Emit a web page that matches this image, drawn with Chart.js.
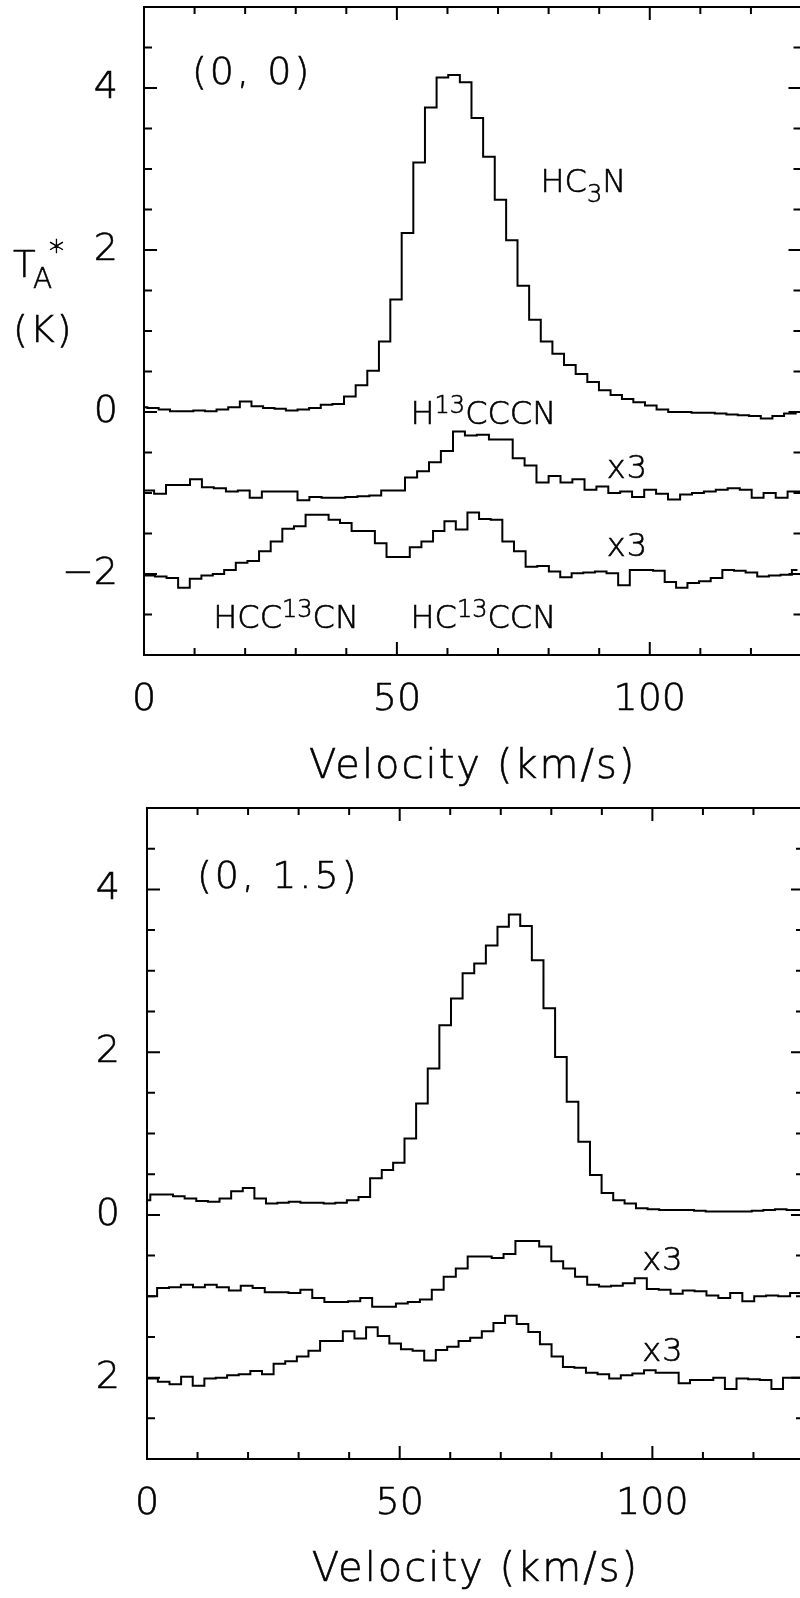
<!DOCTYPE html>
<html>
<head>
<meta charset="utf-8">
<script src="https://cdn.jsdelivr.net/npm/chart.js@4.4.1/dist/chart.umd.min.js"></script>
<style>
  html, body { margin: 0; padding: 0; background: #fff; width: 800px; height: 1598px; overflow: hidden; }
  canvas { position: absolute; left: 0; }
  #topPanel { top: 0; }
  #bottomPanel { top: 790px; }
</style>
</head>
<body>
<canvas id="topPanel" width="808" height="800"></canvas>
<canvas id="bottomPanel" width="812" height="808"></canvas>
<script>
// channel centres (km/s) of the three spectra
const velHC3N = [-0.5, 1.8, 4.0, 6.3, 8.6, 10.9, 13.2, 15.5, 17.8, 20.1, 22.4, 24.7, 26.9, 29.2, 31.5, 33.8, 36.1, 38.4, 40.7, 43.0, 45.3, 47.6, 49.8, 52.1, 54.4, 56.7, 59.0, 61.3, 63.6, 65.9, 68.2, 70.5, 72.7, 75.0, 77.3, 79.6, 81.9, 84.2, 86.5, 88.8, 91.1, 93.4, 95.6, 97.9, 100.2, 102.5, 104.8, 107.1, 109.4, 111.7, 114.0, 116.3, 118.5, 120.8, 123.1, 125.4, 127.7, 130.0];
const velH13 = [-1.5, 0.8, 3.2, 5.5, 7.9, 10.3, 12.6, 15.0, 17.4, 19.7, 22.1, 24.5, 26.8, 29.2, 31.5, 33.9, 36.3, 38.6, 41.0, 43.4, 45.7, 48.1, 50.4, 52.8, 55.2, 57.5, 59.9, 62.3, 64.6, 67.0, 69.4, 71.7, 74.1, 76.4, 78.8, 81.2, 83.5, 85.9, 88.3, 90.6, 93.0, 95.3, 97.7, 100.1, 102.4, 104.8, 107.2, 109.5, 111.9, 114.2, 116.6, 119.0, 121.3, 123.7, 126.1, 128.4, 130.8];
const velIso = [-1.3, 1.0, 3.3, 5.6, 7.9, 10.2, 12.5, 14.7, 17.0, 19.3, 21.6, 23.9, 26.2, 28.5, 30.8, 33.1, 35.4, 37.6, 39.9, 42.2, 44.5, 46.8, 49.1, 51.4, 53.7, 56.0, 58.3, 60.5, 62.8, 65.1, 67.4, 69.7, 72.0, 74.3, 76.6, 78.9, 81.2, 83.4, 85.7, 88.0, 90.3, 92.6, 94.9, 97.2, 99.5, 101.8, 104.1, 106.3, 108.6, 110.9, 113.2, 115.5, 117.8, 120.1, 122.4, 124.7, 127.0, 129.2];

// (0, 0)
const topHC3N = [0.06, 0.05, 0.03, 0.01, 0.01, 0.02, 0.01, 0.03, 0.06, 0.13, 0.07, 0.05, 0.04, 0.02, 0.03, 0.05, 0.09, 0.10, 0.19, 0.33, 0.51, 0.87, 1.39, 2.21, 3.08, 3.76, 4.13, 4.16, 4.07, 3.63, 3.15, 2.62, 2.12, 1.56, 1.14, 0.87, 0.72, 0.58, 0.47, 0.37, 0.27, 0.21, 0.16, 0.12, 0.08, 0.03, 0.00, 0.00, -0.01, -0.01, -0.02, -0.03, -0.04, -0.05, -0.08, -0.05, -0.02, 0.00];
const topH13 = [-0.97, -0.97, -1.01, -0.90, -0.90, -0.83, -0.93, -0.94, -0.98, -0.97, -1.06, -0.98, -0.98, -0.98, -1.09, -1.05, -1.06, -1.06, -1.05, -1.04, -1.03, -0.97, -0.97, -0.81, -0.73, -0.62, -0.48, -0.24, -0.29, -0.28, -0.34, -0.34, -0.57, -0.66, -0.87, -0.79, -0.87, -0.83, -0.96, -0.92, -1.00, -0.98, -1.05, -0.96, -1.01, -1.08, -1.02, -1.00, -0.98, -0.96, -0.94, -0.96, -1.06, -1.00, -1.06, -0.98, -0.98];
const topIso = [-2.02, -2.02, -2.03, -2.05, -2.17, -2.06, -2.02, -2.00, -1.95, -1.86, -1.84, -1.72, -1.60, -1.44, -1.41, -1.27, -1.27, -1.33, -1.37, -1.47, -1.47, -1.62, -1.79, -1.79, -1.67, -1.60, -1.47, -1.35, -1.45, -1.24, -1.32, -1.33, -1.60, -1.72, -1.91, -1.90, -1.97, -2.04, -1.99, -1.98, -1.97, -1.99, -2.14, -1.95, -1.95, -1.96, -2.10, -2.17, -2.11, -2.09, -2.05, -1.95, -1.96, -1.98, -2.03, -2.02, -2.01, -1.95];

// (0, 1.5)
const botHC3N = [0.18, 0.25, 0.25, 0.23, 0.20, 0.17, 0.16, 0.20, 0.29, 0.33, 0.20, 0.14, 0.15, 0.16, 0.15, 0.15, 0.14, 0.15, 0.18, 0.22, 0.45, 0.55, 0.64, 0.94, 1.37, 1.80, 2.33, 2.66, 2.97, 3.09, 3.31, 3.54, 3.69, 3.55, 3.13, 2.54, 1.94, 1.39, 0.90, 0.49, 0.27, 0.18, 0.14, 0.08, 0.07, 0.06, 0.06, 0.06, 0.05, 0.04, 0.04, 0.04, 0.04, 0.05, 0.06, 0.07, 0.06, 0.06];
const botH13 = [-1.00, -1.00, -0.90, -0.89, -0.86, -0.89, -0.86, -0.89, -0.93, -0.87, -0.90, -0.95, -0.95, -0.96, -0.92, -1.02, -1.07, -1.07, -1.06, -1.02, -1.13, -1.13, -1.09, -1.07, -1.04, -0.92, -0.76, -0.66, -0.51, -0.51, -0.53, -0.48, -0.32, -0.32, -0.39, -0.57, -0.66, -0.76, -0.86, -0.88, -0.87, -0.84, -0.78, -0.91, -0.92, -0.97, -0.93, -0.94, -0.99, -1.02, -0.96, -1.06, -1.00, -0.99, -1.00, -0.96, -0.96];
const botIso = [-2.01, -2.01, -2.05, -2.08, -1.99, -2.10, -2.01, -2.00, -1.97, -1.96, -1.92, -1.96, -1.83, -1.80, -1.74, -1.67, -1.55, -1.55, -1.43, -1.52, -1.38, -1.49, -1.58, -1.65, -1.67, -1.79, -1.66, -1.62, -1.55, -1.51, -1.43, -1.33, -1.24, -1.34, -1.44, -1.59, -1.74, -1.87, -1.88, -1.94, -1.96, -2.01, -1.97, -1.95, -1.91, -1.94, -1.94, -2.07, -2.03, -2.03, -2.00, -2.14, -2.01, -2.02, -2.03, -2.14, -2.00, -2.00];

const xTickValues = [0, 50, 100];
const yTickValues = [-2, 0, 2, 4];

// in-plot annotations, anchored in data units (left edge, baseline)
const topLabels = [
  {x: 9.5, y: 4.05, size: 38, sp: 3, parts: ['(0, 0)']},
  {x: 78.4, y: 2.71, size: 32, sp: 0, parts: ['HC', ['3', 'sub'], 'N']},
  {x: 52.7, y: -0.15, size: 32, sp: 0, parts: ['H', ['13', 'sup'], 'CCCN']},
  {x: 91.5, y: -0.82, size: 32, sp: 1, parts: ['x3']},
  {x: 91.5, y: -1.78, size: 32, sp: 1, parts: ['x3']},
  {x: 13.7, y: -2.67, size: 32, sp: 0, parts: ['HCC', ['13', 'sup'], 'CN']},
  {x: 52.7, y: -2.67, size: 32, sp: 0, parts: ['HC', ['13', 'sup'], 'CCN']},
];
const bottomLabels = [
  {x: 9.9, y: 4.02, size: 38, sp: 3, parts: ['(0, 1.5)']},
  {x: 98.0, y: -0.68, size: 32, sp: 1, parts: ['x3']},
  {x: 98.0, y: -1.80, size: 32, sp: 1, parts: ['x3']},
];

const FAMILY = "'DejaVu Sans', sans-serif";
const WEIGHT = '200';
const INK = 0.6;  // extra stroke so the light face reads like the plotter lettering

function drawParts(ctx, x, y, parts, size, sp) {
  let cx = x;
  ctx.letterSpacing = (sp || 0) + 'px';
  parts.forEach((p) => {
    let text = p, s = size, dy = 0;
    if (Array.isArray(p)) {
      text = p[0];
      s = size * 0.75;
      dy = p[1] === 'sup' ? -size * 0.34 : size * 0.3;
    }
    ctx.font = WEIGHT + ' ' + s + 'px ' + FAMILY;
    ctx.strokeText(text, cx, y + dy);
    ctx.fillText(text, cx, y + dy);
    cx += ctx.measureText(text).width;
  });
  ctx.letterSpacing = '0px';
}

// box with inward ticks on all four sides
const frameTicks = {
  id: 'frameTicks',
  afterDatasetsDraw(chart) {
    const ctx = chart.ctx, a = chart.chartArea;
    const xs = chart.scales.x, ys = chart.scales.y;
    ctx.save();
    ctx.strokeStyle = '#000';
    ctx.lineWidth = 2;
    ctx.strokeRect(a.left, a.top, a.right - a.left, a.bottom - a.top);
    ctx.beginPath();
    for (let v = 0; v <= 130; v += 10) {
      const px = xs.getPixelForValue(v);
      const len = v % 50 === 0 ? 13 : 7;
      ctx.moveTo(px, a.bottom); ctx.lineTo(px, a.bottom - len);
      ctx.moveTo(px, a.top); ctx.lineTo(px, a.top + len);
    }
    for (let v = -3; v <= 5; v += 0.5) {
      const py = ys.getPixelForValue(v);
      const len = v % 2 === 0 ? 13 : 8;
      ctx.moveTo(a.left, py); ctx.lineTo(a.left + len, py);
      ctx.moveTo(a.right, py); ctx.lineTo(a.right - len, py);
    }
    ctx.stroke();
    ctx.restore();
  },
};

function textLayer(labels, cfg) {
  return {
    id: 'textLayer',
    afterDraw(chart) {
      const ctx = chart.ctx, a = chart.chartArea;
      const xs = chart.scales.x, ys = chart.scales.y;
      ctx.save();
      ctx.fillStyle = '#000';
      ctx.strokeStyle = '#000';
      ctx.lineWidth = INK;
      ctx.textBaseline = 'alphabetic';
      ctx.textAlign = 'left';
      labels.forEach((l) => {
        drawParts(ctx, xs.getPixelForValue(l.x), ys.getPixelForValue(l.y), l.parts, l.size, l.sp);
      });
      if (cfg.yTitle) {
        drawParts(ctx, 13, 277, ['T'], 37);
        drawParts(ctx, 33, 288, ['A'], 28);
        drawParts(ctx, 49, 261, ['*'], 30);
        drawParts(ctx, 13, 342, ['(K)'], 38, 2);
      }
      // x axis title
      ctx.textAlign = 'center';
      ctx.textBaseline = 'middle';
      drawParts(ctx, (a.left + a.right) / 2, cfg.titleY, ['Velocity (km/s)'], 40, 2);
      ctx.restore();
    },
  };
}

function series(vel, vals) {
  return {
    type: 'line',
    data: vel.map((v, i) => ({x: v, y: vals[i]})),
    stepped: 'middle',
    borderColor: '#000',
    borderWidth: 2,
    pointRadius: 0,
    fill: false,
  };
}

function makePanel(id, datasets, labels, cfg) {
  const tickFont = {family: FAMILY, size: 38, weight: WEIGHT};
  return new Chart(document.getElementById(id), {
    type: 'line',
    data: {datasets: datasets},
    options: {
      responsive: false,
      animation: false,
      devicePixelRatio: 1,
      layout: {padding: {top: cfg.top, right: cfg.right, left: 0, bottom: 0}},
      plugins: {legend: {display: false}, tooltip: {enabled: false}},
      scales: {
        x: {
          type: 'linear', min: 0, max: 130,
          afterBuildTicks: (s) => { s.ticks = xTickValues.map((v) => ({value: v})); },
          afterFit: (s) => { s.height = cfg.xHeight; s.paddingLeft = 0; s.paddingRight = 0; },
          grid: {display: false, drawTicks: false},
          border: {display: false},
          ticks: {color: '#000', padding: 22, maxRotation: 0, autoSkip: false, font: tickFont,
                  textStrokeColor: '#000', textStrokeWidth: INK},
        },
        y: {
          type: 'linear', min: -3, max: 5,
          afterBuildTicks: (s) => { s.ticks = yTickValues.map((v) => ({value: v})); },
          afterFit: (s) => { s.width = cfg.yWidth; s.paddingTop = 0; s.paddingBottom = 0; },
          grid: {display: false, drawTicks: false},
          border: {display: false},
          ticks: {color: '#000', padding: cfg.yPad, callback: cfg.yLabel, font: tickFont,
                  textStrokeColor: '#000', textStrokeWidth: INK},
        },
      },
    },
    plugins: [frameTicks, textLayer(labels, cfg)],
  });
}

makePanel('topPanel',
  [series(velHC3N, topHC3N), series(velH13, topH13), series(velIso, topIso)],
  topLabels,
  {top: 7, right: 6.5, xHeight: 145, yWidth: 144, yPad: 26, titleY: 768, yTitle: true,
   yLabel: (v) => (v < 0 ? '\u2212' + Math.abs(v) : String(v))});

makePanel('bottomPanel',
  [series(velHC3N, botHC3N), series(velH13, botH13), series(velIso, botIso)],
  bottomLabels,
  {top: 18, right: 8, xHeight: 139, yWidth: 147, yPad: 27, titleY: 781, yTitle: false,
   yLabel: (v) => String(Math.abs(v))});
</script>
</body>
</html>
